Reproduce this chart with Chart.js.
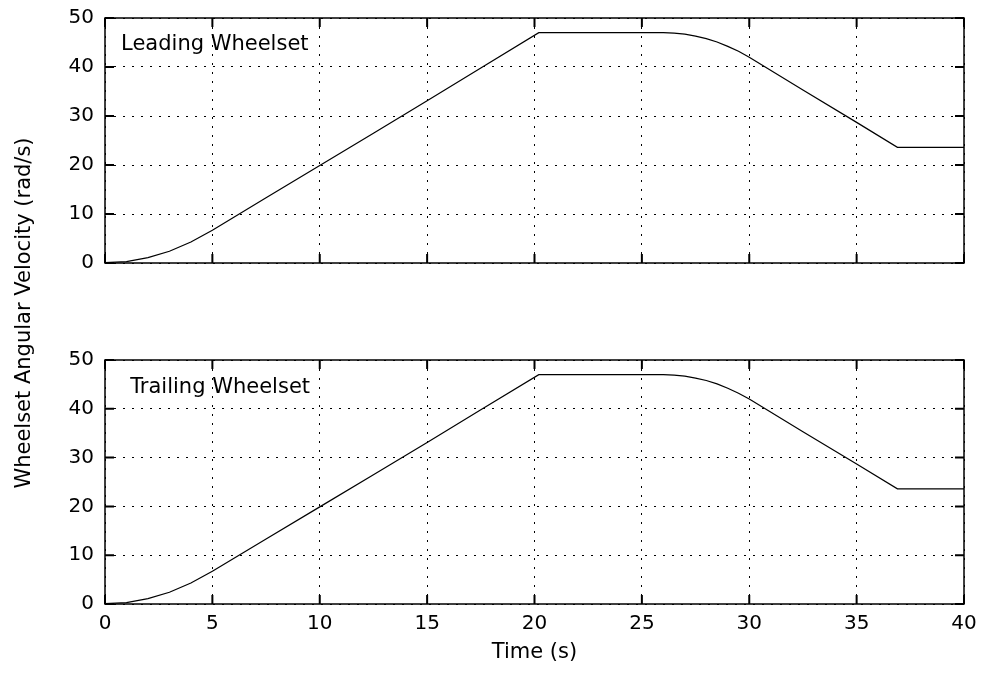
<!DOCTYPE html>
<html lang="en">
<head>
  <meta charset="UTF-8">
  <title>Wheelset Angular Velocity</title>
  <style>
    body {
      margin: 0;
      width: 981px;
      height: 673px;
      position: relative;
      overflow: hidden;
      background-color: #ffffff;
      font-family: "DejaVu Sans", sans-serif;
      color: #000;
    }
    .plot {
      position: absolute;
      left: 0;
      width: 981px;
    }
    #yLabel {
      position: absolute;
      left: -227px;   /* centre at x = 23 */
      top: 301px;     /* centre at y = 313 */
      width: 500px;
      height: 24px;
      line-height: 24px;
      text-align: center;
      font-size: 21px;
      transform: rotate(-90deg);
      white-space: nowrap;
    }
  </style>
  <script src="https://cdn.jsdelivr.net/npm/chart.js"></script>
</head>
<body>
  <div class="plot" style="top:0; height:300px;"><canvas id="leadChart"></canvas></div>
  <div class="plot" style="top:300px; height:373px;"><canvas id="trailChart"></canvas></div>
  <div id="yLabel">Wheelset Angular Velocity (rad/s)</div>

  <script>
    // values
    const timeS       = [0, 1, 2, 3, 4, 5, 7.5, 10, 12.5, 15, 17.5, 20.2, 26, 26.5, 27, 27.5, 28, 28.5, 29, 29.5, 30, 32.5, 35, 36.9, 40];
    const leadingVel  = [0.1, 0.3, 1.1, 2.4, 4.3, 6.7, 13.3, 19.9, 26.5, 33.1, 39.8, 47, 47, 46.9, 46.7, 46.3, 45.8, 45.1, 44.2, 43.2, 42.0, 35.3, 28.7, 23.6, 23.6];
    const trailingVel = [0.1, 0.3, 1.1, 2.4, 4.3, 6.7, 13.3, 19.9, 26.5, 33.1, 39.8, 47, 47, 46.9, 46.7, 46.3, 45.8, 45.1, 44.2, 43.2, 42.0, 35.3, 28.7, 23.6, 23.6];
    const xTicks = [0, 40, 5];   // min, max, step
    const yTicks = [0, 50, 10];

    const FONT = 'DejaVu Sans';

    // matlab style box with inward ticks, plus the text label
    const matlabBox = {
      id: 'matlabBox',
      afterDraw(chart, args, opts) {
        const { ctx, chartArea: a, scales: { x, y } } = chart;
        ctx.save();
        ctx.strokeStyle = '#000';
        ctx.lineWidth = 1.5;
        ctx.strokeRect(a.left, a.top, a.right - a.left, a.bottom - a.top);

        ctx.lineWidth = 2;
        ctx.beginPath();
        x.ticks.forEach(t => {
          const px = x.getPixelForValue(t.value);
          ctx.moveTo(px, a.bottom); ctx.lineTo(px, a.bottom - 9);
          ctx.moveTo(px, a.top);    ctx.lineTo(px, a.top + 9);
        });
        y.ticks.forEach(t => {
          const py = y.getPixelForValue(t.value);
          ctx.moveTo(a.left, py);  ctx.lineTo(a.left + 9, py);
          ctx.moveTo(a.right, py); ctx.lineTo(a.right - 9, py);
        });
        ctx.stroke();

        ctx.fillStyle = '#000';
        ctx.font = '21px "' + FONT + '"';
        ctx.textAlign = 'left';
        ctx.textBaseline = 'alphabetic';
        ctx.fillText(opts.text, x.getPixelForValue(opts.at[0]), y.getPixelForValue(opts.at[1]));
        ctx.restore();
      }
    };

    function makeChart(id, values, label, opt) {
      return new Chart(document.getElementById(id), {
        type: 'line',
        data: {
          datasets: [{
            label: label,
            data: timeS.map((t, i) => ({ x: t, y: values[i] })),
            borderColor: '#000',
            borderWidth: 1.2,
            pointRadius: 0,
            tension: 0,
            fill: false
          }]
        },
        plugins: [matlabBox],
        options: {
          responsive: true,
          maintainAspectRatio: false,
          animation: false,
          events: [],
          layout: { padding: { top: opt.padTop, right: 17, left: 0, bottom: 0 } },
          plugins: {
            legend: { display: false },
            tooltip: { enabled: false },
            matlabBox: { text: label, at: opt.textAt }
          },
          scales: {
            x: {
              type: 'linear',
              min: xTicks[0], max: xTicks[1],
              // fixed box: no extra room for the end labels
              afterFit: s => { s.height = opt.xHeight; s.paddingLeft = 0; s.paddingRight = 0; },
              grid: { color: '#000', lineWidth: 1, drawTicks: false },
              border: { display: false, dash: [2, 7] },
              ticks: {
                display: opt.showX,
                stepSize: xTicks[2],
                padding: 8,
                color: '#000',
                maxRotation: 0,
                font: { family: FONT, size: 20 }
              },
              title: {
                display: opt.showX,
                text: 'Time (s)',
                color: '#000',
                padding: { top: 0, bottom: 8 },
                font: { family: FONT, size: 21 }
              }
            },
            y: {
              min: yTicks[0], max: yTicks[1],
              afterFit: s => { s.width = 105; s.paddingTop = 0; s.paddingBottom = 0; },
              grid: { color: '#000', lineWidth: 1, drawTicks: false },
              border: { display: false, dash: [2, 7] },
              ticks: {
                stepSize: yTicks[2],
                padding: 11,
                color: '#000',
                font: { family: FONT, size: 20 }
              }
            }
          }
        }
      });
    }

    makeChart('leadChart', leadingVel, 'Leading Wheelset',
      { padTop: 18, xHeight: 37, showX: false, textAt: [0.75, 43.5] });
    makeChart('trailChart', trailingVel, 'Trailing Wheelset',
      { padTop: 60, xHeight: 69, showX: true, textAt: [1.17, 43.2] });
  </script>
</body>
</html>
